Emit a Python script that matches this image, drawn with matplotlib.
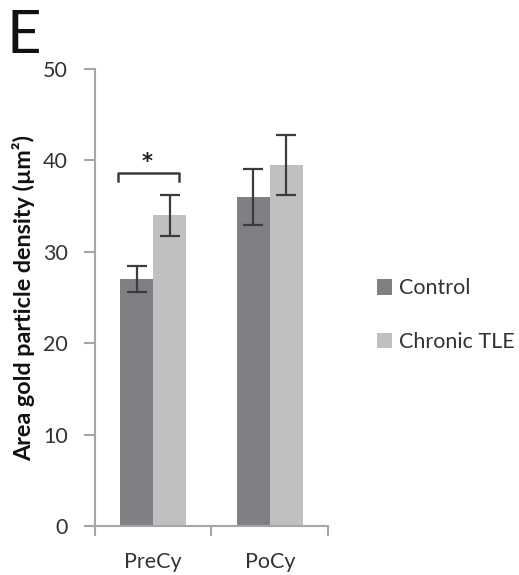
import matplotlib
matplotlib.use("Agg")
import matplotlib.pyplot as plt
import numpy as np

categories = ["PreCy", "PoCy"]
series_names = ["Control", "Chronic TLE"]
control_vals = [27.0, 36.0]
control_err = [1.45, 3.1]
tle_vals = [34.0, 39.5]
tle_err = [2.25, 3.3]
yticks = [0, 10, 20, 30, 40, 50]

plt.rcParams['font.family'] = ['Lato', 'DejaVu Sans']

fig = plt.figure(figsize=(5.19, 5.75), dpi=100)
ax = fig.add_axes([0.183, 0.0852, 0.449, 0.7948])

x = np.arange(len(categories))
w = 0.285
c_ctrl = '#808084'
c_tle = '#c0c0c3'
ecol = '#3c3c3c'
ax.bar(x - w/2, control_vals, w, color=c_ctrl, label=series_names[0], zorder=2)
ax.bar(x + w/2, tle_vals, w, color=c_tle, label=series_names[1], zorder=2)
ax.errorbar(x - w/2, control_vals, yerr=control_err, fmt='none', ecolor=ecol,
            elinewidth=1.6, capsize=7, capthick=1.6, zorder=3)
ax.errorbar(x + w/2, tle_vals, yerr=tle_err, fmt='none', ecolor=ecol,
            elinewidth=1.6, capsize=7, capthick=1.6, zorder=3)

# significance bracket
bx0, bx1 = -0.30, 0.22
by, bh = 38.6, 0.8
ax.plot([bx0, bx0, bx1, bx1], [by - bh, by, by, by - bh], color=ecol, lw=1.8, zorder=3)
ax.text((bx0 + bx1) / 2 - 0.01, by + 0.1, "*", ha='center', va='bottom', fontsize=15,
        fontweight='bold', color='#222222', family=['DejaVu Sans'])

ax.set_xlim(-0.5, 1.5)
ax.set_ylim(0, 50)
ax.set_yticks(yticks)
ax.set_xticks([-0.5, 0.5, 1.5])
ax.set_xticklabels([])
ax.set_xticks(x, minor=True)
ax.set_xticklabels(categories, minor=True)
ax.tick_params(axis='x', which='minor', length=0, pad=19, labelsize=15.5, labelcolor='#333333')
ax.tick_params(axis='x', which='major', length=7, width=1.5, color='#a6a6a6')
ax.tick_params(axis='y', length=8, width=1.5, color='#a6a6a6', labelsize=15.5,
               labelcolor='#333333', pad=11.5)
for s in ['top', 'right']:
    ax.spines[s].set_visible(False)
for s in ['left', 'bottom']:
    ax.spines[s].set_color('#a6a6a6')
    ax.spines[s].set_linewidth(1.5)

ax.set_ylabel("Area gold particle density (µm²)", fontsize=16.8, fontweight='bold',
              color='#111111')
ax.yaxis.set_label_coords(-0.255, 0.5)

leg = fig.legend(loc='center left', bbox_to_anchor=(0.689, 0.452), frameon=False,
                 fontsize=15.5, handlelength=0.72, handleheight=0.72, handletextpad=0.3,
                 labelspacing=1.55, labelcolor='#333333')

fig.text(0.012, 0.908, "E", fontsize=43, color='#111111', ha='left', va='baseline')

fig.savefig("out.png", dpi=100)
